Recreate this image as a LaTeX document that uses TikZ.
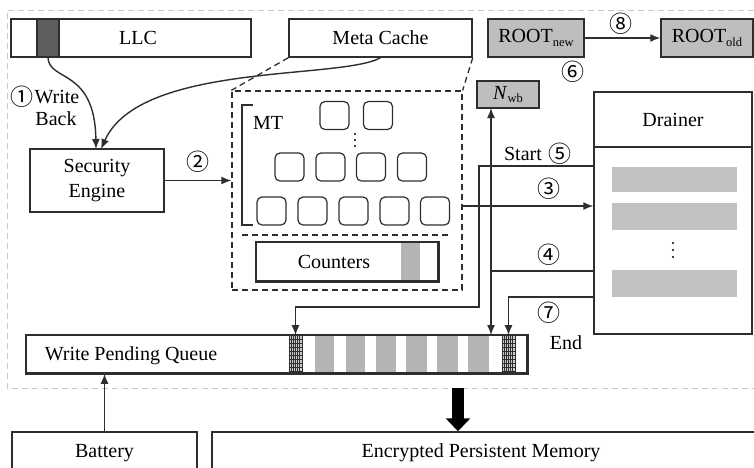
\documentclass[tikz,border=0pt]{standalone}
\usepackage{fontspec}
\setmainfont{Liberation Serif}
\newfontfamily\circfont{Noto Sans CJK SC}
\usetikzlibrary{arrows.meta}

\definecolor{linec}{HTML}{2E2E2E}
\definecolor{framec}{HTML}{C8C8C8}
\definecolor{rootgray}{HTML}{BEBEBE}
\definecolor{cellgray}{HTML}{B4B4B4}
\definecolor{barsgray}{HTML}{C2C2C2}
\definecolor{darkcell}{HTML}{5E5E5E}

\newcommand\mainfs{\fontsize{20}{25}\selectfont}
\newcommand\lowtxt[1]{\raisebox{-0.4ex}{\fontsize{12.5}{12.5}\selectfont #1}}

\begin{document}
\begin{tikzpicture}[x=1pt,y=-1pt,
  box/.style={draw=linec, line width=1.5pt, fill=white, inner sep=0pt, font=\mainfs},
  txt/.style={inner sep=0pt, font=\mainfs},
  num/.style={inner sep=0pt, font=\circfont\fontsize{23}{23}\selectfont},
  rbox/.style={draw=linec, line width=1.2pt, rounded corners=5pt, minimum width=29pt, minimum height=28pt, inner sep=0pt},
  wire/.style={draw=linec, line width=1.4pt},
  arr/.style={wire, -{Latex[length=10pt,width=8pt]}},
  dashline/.style={draw=linec, line width=1.3pt, dash pattern=on 6pt off 4pt},
  hatchcell/.style={draw=linec, line width=0.6pt, fill=cellgray!70, minimum width=13pt, minimum height=37pt, inner sep=0pt}
]
\useasboundingbox (0,0) rectangle (754,467);

% outer frame of the controller
\draw[framec, line width=1pt, dash pattern=on 6pt off 4pt] (754,10) -- (7,10) -- (7,388) -- (754,388);

% last level cache
\node[box, minimum width=240pt, minimum height=38pt] (llc) at (131,38) {};
\node[draw=linec, line width=1.2pt, fill=darkcell, minimum width=22pt, minimum height=38pt, inner sep=0pt] (wbcell) at (48,38) {};
\node[txt] (llctext) at (138,38) {LLC};

% metadata cache
\node[box, minimum width=183pt, minimum height=38pt] (meta) at (380.5,38) {Meta Cache};

% roots
\node[box, fill=rootgray, minimum width=96pt, minimum height=38pt] (rnew) at (536,38) {ROOT\lowtxt{new}};
\node[box, fill=rootgray, minimum width=92pt, minimum height=38pt] (rold) at (707,38) {ROOT\lowtxt{old}};
\draw[arr] (rnew) -- (rold);
\node[num] (n8) at (621,24) {⑧};
\node[num] (n6) at (573,72) {⑥};

% write-back counter
\node[box, fill=rootgray, minimum width=62pt, minimum height=27pt] (nwb) at (508,94.5) {\textit{N}\lowtxt{wb}};

% drainer
\node[box, minimum width=158pt, minimum height=242pt] (drainer) at (673,213) {};
\draw[wire] (drainer.west |- 0,147) -- (drainer.east |- 0,147);
\node[txt] (draintxt) at (673,120) {Drainer};
\fill[barsgray] (612,167) rectangle (737,192);
\fill[barsgray] (612,203) rectangle (737,230);
\fill[barsgray] (612,270) rectangle (737,297);
\foreach \yy in {243,250,257} \fill[black] (673,\yy) circle (1.2pt);

% security engine
\node[box, minimum width=134pt, minimum height=63pt, align=center] (se) at (97,180.5) {Security\\Engine};

% cached metadata (expanded view)
\node[dashline, minimum width=230pt, minimum height=199pt, inner sep=0pt] (mtbox) at (347,190.5) {};
\draw[dashline] (meta.south west) -- (mtbox.north west);
\draw[dashline] (meta.south east) -- (mtbox.north east);

% merkle tree
\draw[wire] (253,105) -- (242,105) -- (242,225) -- (253,225);
\node[txt] (mttext) at (268,123) {MT};
\node[rbox] (t1) at (334.5,115.5) {};
\node[rbox] (t2) at (378,115.5) {};
\foreach \yy in {134,140,146} \fill[black] (355,\yy) circle (1.2pt);
\node[rbox] (m1) at (289.5,167) {};
\node[rbox] (m2) at (330.5,167) {};
\node[rbox] (m3) at (371,167) {};
\node[rbox] (m4) at (412,167) {};
\node[rbox] (b1) at (271.5,211) {};
\node[rbox] (b2) at (312.5,211) {};
\node[rbox] (b3) at (353.5,211) {};
\node[rbox] (b4) at (394.5,211) {};
\node[rbox] (b5) at (435,211) {};
\draw[dashline] (242,235) -- (450,235);

% counters
\node[box, minimum width=182pt, minimum height=39pt] (cnt) at (347,261.5) {};
\fill[cellgray] (401,242.6) rectangle (420,280.4);
\draw[draw=linec, line width=1.5pt] (cnt.north west) rectangle (cnt.south east);
\node[txt] (cnttext) at (334,262) {Counters};

% write pending queue
\node[box, minimum width=501pt, minimum height=38pt] (wpq) at (276.5,354) {};
\node[txt] (wpqtext) at (131,356) {Write Pending Queue};
\foreach \xa/\xb in {315/334, 346/365, 376/396, 406/427, 437/458, 468/489}
  \fill[cellgray] (\xa,335.6) rectangle (\xb,372.4);
\node[hatchcell] (hl) at (295.5,354) {};
\node[hatchcell] (hr) at (508.5,354) {};
\foreach \c in {hl,hr} {
  \foreach \dx in {-4.5,-2.5,...,4.5}
    \draw[linec, line width=0.45pt] ([xshift=\dx pt]\c.north) -- ([xshift=\dx pt]\c.south);
  \foreach \dy in {4,8,...,36}
    \draw[linec, line width=0.45pt] ([yshift=-\dy pt]\c.north west) -- ([yshift=-\dy pt]\c.north east);
}
\draw[draw=linec, line width=1.5pt] (wpq.north west) rectangle (wpq.south east);

% battery and persistent memory
\node[box, minimum width=185pt, minimum height=70pt] (bat) at (104.5,467) {};
\node[txt] (battext) at (104.5,453) {Battery};
\node[box, minimum width=560pt, minimum height=70pt] (epm) at (492,467) {};
\node[txt] (epmtext) at (481,453) {Encrypted Persistent Memory};

% connectors
\coordinate (wbend) at (96,149);
\draw[arr] (wbcell.south) .. controls (49,82) and (95,68) .. (wbend);
\coordinate (mcend) at (101,149);
\draw[arr] (meta.south) .. controls (340,80) and (140,62) .. (mcend);
\node[num] (n1) at (22,97) {①};
\node[txt] (wbtext1) at (57,97) {Write};
\node[txt] (wbtext2) at (56,119) {Back};

\draw[arr] (se.east) -- (mtbox.west |- se.east);
\node[num] (n2) at (198,162) {②};

\coordinate (c3) at (462,206);
\draw[arr] (c3) -- (c3 -| drainer.west);
\node[num] (n3) at (549,189) {③};

\coordinate (c5) at (594,166);
\draw[arr] (c5) -- (479,166) -- (479,307) -- (hl.north |- 0,307) -- (hl.north);
\node[txt] (starttext) at (523,154) {Start};
\node[num] (n5) at (560,154) {⑤};

\coordinate (nwbfoot) at (491,108);
\coordinate (wpqtop) at (491,335);
\draw[wire, {Latex[length=10pt,width=8pt]}-{Latex[length=10pt,width=8pt]}] (nwbfoot) -- (wpqtop);
\coordinate (c4) at (491,271);
\draw[wire] (c4 -| drainer.west) -- (c4);
\node[num] (n4) at (549,255) {④};

\coordinate (c7) at (594,297);
\draw[arr] (c7) -- (hr.north |- c7) -- (hr.north);
\node[num] (n7) at (549,313) {⑦};
\node[txt] (endtext) at (566,343) {End};

\draw[arr] (bat.north) -- (bat.north |- wpq.south);

\coordinate (thk) at (458,388);
\draw[black, line width=12pt, -{Triangle[length=13pt,width=24pt]}] (thk) -- (thk |- epm.north);
\end{tikzpicture}
\end{document}
